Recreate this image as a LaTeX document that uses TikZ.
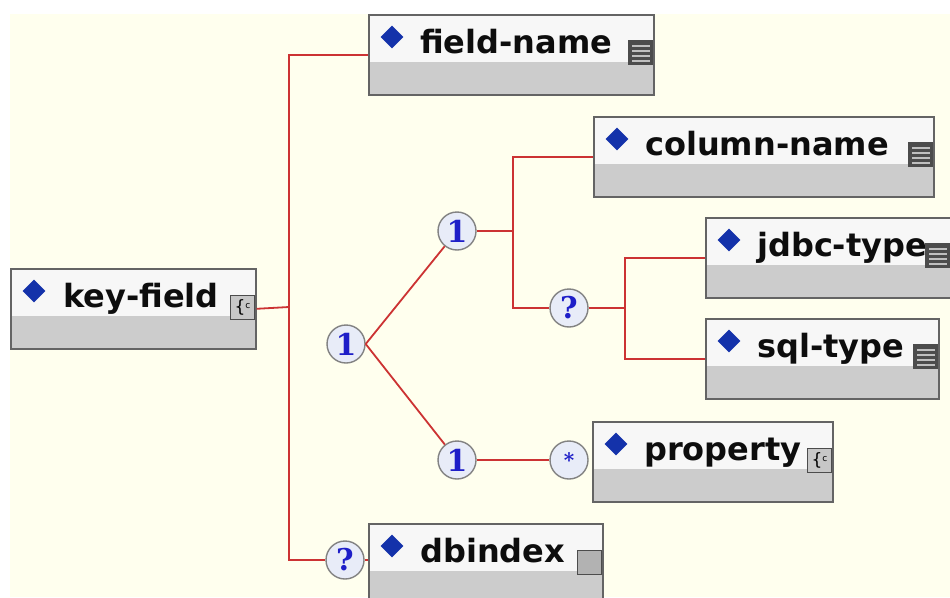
\documentclass[tikz,border=0pt]{standalone}
\usepackage{fontspec}
\setmainfont{DejaVu Sans}
\newfontfamily\compfont{DejaVu Serif}
\usepackage{xcolor}
\usepackage{tikz}
\usetikzlibrary{positioning, shapes.geometric}

\definecolor{canvas}{RGB}{255,255,238}
\definecolor{headwhite}{RGB}{247,247,247}
\definecolor{boxgrey}{RGB}{204,204,204}
\definecolor{boxborder}{RGB}{100,100,100}
\definecolor{gemblue}{RGB}{20,50,170}
\definecolor{wirered}{RGB}{204,51,51}
\definecolor{circfill}{RGB}{232,236,248}
\definecolor{circline}{RGB}{130,130,130}
\definecolor{compblue}{RGB}{30,30,200}

\begin{document}
\begin{tikzpicture}[
    x=1pt, y=-1pt,
    elem/.style={rectangle, draw=boxborder, line width=1.6pt, fill=boxgrey, minimum height=80pt, inner sep=0pt, anchor=north west,
        path picture={\fill[headwhite] (path picture bounding box.north west) rectangle ([yshift=-47pt]path picture bounding box.north east);}},
    tag/.style={anchor=base west, inner sep=0pt, font=\bfseries\fontsize{32}{32}\selectfont, text=black!95},
    gem/.style={diamond, fill=gemblue, minimum size=23pt, inner sep=0pt},
    simpleicon/.style={rectangle, fill=black!70, minimum size=25pt, inner sep=0pt, anchor=north east,
        path picture={\foreach \k in {5,10,15,20} \fill[black!25] ([xshift=4pt,yshift=-\k pt]path picture bounding box.north west) rectangle ([xshift=-3pt,yshift=-\k pt-2pt]path picture bounding box.north east);}},
    compicon/.style={rectangle, draw=black!70, line width=1.2pt, fill=black!22, minimum size=24pt, inner sep=0pt, anchor=north east, font=\fontsize{17}{17}\selectfont},
    emptyicon/.style={rectangle, draw=black!70, line width=1.2pt, fill=black!30, minimum size=24pt, inner sep=0pt, anchor=north east},
    comp/.style={circle, draw=circline, line width=1.4pt, fill=circfill, minimum size=38pt, inner sep=0pt, text=compblue, font=\compfont\bfseries\fontsize{30}{30}\selectfont},
    wire/.style={draw=wirered, line width=1.8pt}
]
\clip (0,0) rectangle (950,597);
\fill[white] (0,0) rectangle (950,597);
\fill[canvas] (10,14) rectangle (950,597);

% compositors
\node[comp] (seqmain) at (346,344) {1};
\node[comp] (sequp) at (457,231) {1};
\node[comp] (optup) at (569,308) {?};
\node[comp] (seqlow) at (457,460) {1};
\node[comp, font=\compfont\bfseries\fontsize{20}{20}\selectfont] (starprop) at (569,460) {*};
\node[comp] (optdb) at (345,560) {?};

% elements
\node[elem, minimum width=245pt] (keyfield) at (10,268) {};
\node[elem, minimum width=285pt] (fieldname) at (368,14) {};
\node[elem, minimum width=340pt] (colname) at (593,116) {};
\node[elem, minimum width=248pt] (jdbc) at (705,217) {};
\node[elem, minimum width=233pt] (sqltype) at (705,318) {};
\node[elem, minimum width=240pt] (property) at (592,421) {};
\node[elem, minimum width=234pt] (dbindex) at (368,523) {};

% connectors
\coordinate (trunk) at (289,307);
\coordinate (fork-a) at (513,231);
\coordinate (fork-b) at (625,308);
\draw[wire] (keyfield.east) -- (trunk);
\draw[wire] (fieldname.west) -| (trunk) |- (optdb);
\draw[wire] (seqmain.east) -- (sequp);
\draw[wire] (seqmain.east) -- (seqlow);
\draw[wire] (sequp) -- (fork-a);
\draw[wire] (colname.west) -| (fork-a) |- (optup);
\draw[wire] (optup) -- (fork-b);
\draw[wire] (jdbc.west) -| (fork-b) |- (sqltype.west);
\draw[wire] (seqlow) -- (starprop);
\draw[wire] (optdb) -- (dbindex.west |- optdb);

% titles
\node[gem] (keyfield-d) at (34,291) {};
\node[tag] (keyfield-t) at (63,307) {key-field};
\node[compicon] (keyfield-i) at (255,295) {\{\raisebox{4pt}{\fontsize{9}{9}\selectfont c}};

\node[gem] (fieldname-d) at (392,37) {};
\node[tag] (fieldname-t) at (420,53) {field-name};
\node[simpleicon] (fieldname-i) at (653,40) {};

\node[gem] (colname-d) at (617,139) {};
\node[tag] (colname-t) at (645,155) {column-name};
\node[simpleicon] (colname-i) at (933,142) {};

\node[gem] (jdbc-d) at (729,240) {};
\node[tag] (jdbc-t) at (757,256) {jdbc-type};
\node[simpleicon] (jdbc-i) at (950,243) {};

\node[gem] (sqltype-d) at (729,341) {};
\node[tag] (sqltype-t) at (757,357) {sql-type};
\node[simpleicon] (sqltype-i) at (938,344) {};

\node[gem] (property-d) at (616,444) {};
\node[tag] (property-t) at (644,460) {property};
\node[compicon] (property-i) at (832,448) {\{\raisebox{4pt}{\fontsize{9}{9}\selectfont c}};

\node[gem] (dbindex-d) at (392,546) {};
\node[tag] (dbindex-t) at (420,562) {dbindex};
\node[emptyicon] (dbindex-i) at (602,550) {};
\end{tikzpicture}
\end{document}
